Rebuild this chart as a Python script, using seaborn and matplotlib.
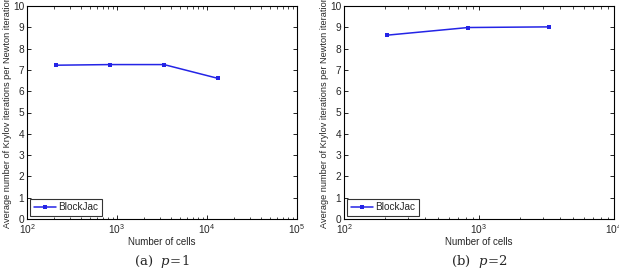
import matplotlib
matplotlib.use("Agg")
import matplotlib.pyplot as plt
import seaborn as sns
import pandas as pd
from matplotlib.ticker import LogLocator, FixedLocator

cells_a = [208, 832, 3328, 13312]
iters_a = [7.22, 7.25, 7.25, 6.60]
cells_b = [208, 832, 3328]
iters_b = [8.63, 8.99, 9.02]
series = "BlockJac"
captions = ["(a)", "(b)"]
pvals = ["1", "2"]

sns.set_style("ticks")
plt.rcParams['font.family'] = ['Liberation Sans', 'DejaVu Sans']
plt.rcParams['mathtext.fontset'] = 'custom'
plt.rcParams['mathtext.rm'] = 'Liberation Sans'
plt.rcParams['mathtext.it'] = 'Liberation Sans:italic'

fig = plt.figure(figsize=(6.19, 2.71), dpi=100)
W, H = 619, 271
boxes = [(27, 6, 297, 219), (344, 6, 614, 219)]
xlims = [(1e2, 1e5), (1e2, 1e4)]
datas = [(cells_a, iters_a), (cells_b, iters_b)]

for i, ((l, t, r, b), (xs, ys)) in enumerate(zip(boxes, datas)):
    ax = fig.add_axes([l / W, 1 - b / H, (r - l) / W, (b - t) / H])
    df = pd.DataFrame({"cells": xs, "iters": ys, "method": series})
    sns.lineplot(data=df, x="cells", y="iters", hue="method", palette=["#2424e6"],
                 marker="s", markersize=2.5, markeredgewidth=0, linewidth=1.1, ax=ax)
    ax.set_xscale("log")
    ax.set_xlim(*xlims[i])
    ax.set_ylim(0, 10)
    ax.yaxis.set_major_locator(FixedLocator(range(0, 11)))
    ax.xaxis.set_major_locator(LogLocator(base=10, numticks=10))
    ax.xaxis.set_minor_locator(LogLocator(base=10, subs=range(2, 10), numticks=20))
    ax.tick_params(which="both", direction="in", top=True, right=True, labelsize=7.3,
                   color="black", pad=2)
    ax.tick_params(which="major", length=3, width=0.6)
    ax.tick_params(which="minor", length=1.8, width=0.5)
    for s in ax.spines.values():
        s.set_color("black")
        s.set_linewidth(0.8)
    ax.set_xlabel("Number of cells", fontsize=7, labelpad=1)
    ax.set_ylabel("Average number of Krylov iterations per Newton iteration", fontsize=6.6, labelpad=0.5)
    leg = ax.legend(loc="lower left", fontsize=7.2, frameon=True, fancybox=False,
                    handlelength=2.2, borderpad=0.35, borderaxespad=0.3, handletextpad=0.3)
    leg.get_frame().set_edgecolor("black")
    leg.get_frame().set_linewidth(0.8)
    cx = (l + r) / 2 / W
    fig.text(cx, 1 - 262 / H, captions[i] + "  $p\\!=\\!" + pvals[i] + "$", ha="center", va="center",
             fontsize=9.5, family="DejaVu Serif", math_fontfamily="dejavuserif")

fig.savefig("out.png", dpi=100)
